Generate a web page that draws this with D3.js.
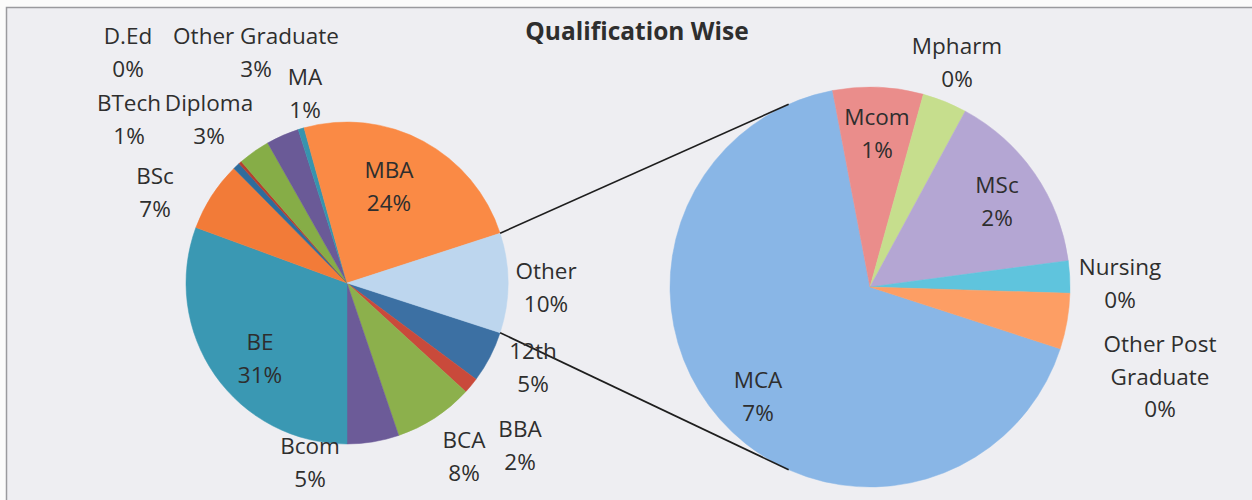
<html>
  <head>
    <title>Qualification Wise</title>
    <meta charset="utf-8" />
    <script src="https://cdnjs.cloudflare.com/ajax/libs/d3/7.8.5/d3.min.js"></script>
    <style>
      body {
        margin: 0;
        background: #fbfbfb;
      }
      svg {
        display: block;
      }
      text {
        font-family: "Open Sans", sans-serif;
        font-size: 22.5px;
        fill: #2e2e2e;
      }
      text.title {
        font-weight: bold;
        font-size: 24.5px;
      }
    </style>
  </head>
  <body>
    <svg width="1252" height="500"></svg>
  </body>

  <script>
    // first pie, % of all candidates
    const mainNames = ["12th", "BBA", "BCA", "Bcom", "BE", "BSc", "BTech", "D.Ed", "Diploma", "Other Graduate", "MA", "MBA"];
    const mainValues = [5.2, 1.6, 8, 5.2, 30.6, 7, 0.7, 0.3, 3.2, 3.3, 0.6, 24.3];

    // second pie = the "Other" slice split up, also % of all candidates
    const otherNames = ["MCA", "Mcom", "Mpharm", "MSc", "Nursing", "Other Post Graduate"];
    const otherValues = [6.7, 0.73, 0.36, 1.5, 0.26, 0.45];

    const mainColors = ["#3c70a3", "#c94a3b", "#8cb04c", "#6c5b98", "#3a98b3", "#f27b38",
                        "#2f6c9c", "#b5402f", "#86ad47", "#6a5a97", "#3794ae", "#fa8a45"];
    const otherColor = "#bdd6ee";
    const secondColors = ["#89b6e6", "#ea8d8b", "#c6de8d", "#b4a6d3", "#5fc4dd", "#fd9e64"];

    // where Excel put the labels (centre of first line)
    const labelPos = {
      "12th": [533, 352], "BBA": [520, 430], "BCA": [464, 441], "Bcom": [310, 447],
      "BE": [260, 343], "BSc": [155, 177], "BTech": [129, 104], "D.Ed": [128, 37],
      "Diploma": [209, 104], "Other Graduate": [256, 37], "MA": [305, 78], "MBA": [389, 171],
      "Other": [546, 272],
      "MCA": [758, 381], "Mcom": [877, 118], "Mpharm": [957, 47], "MSc": [997, 186],
      "Nursing": [1120, 268], "Other Post Graduate": [1160, 345]
    };
    const lineBreaks = { "Other Post Graduate": ["Other Post", "Graduate"] };
    const lineH = 32.5;

    const svg = d3.select("svg");
    const W = 1252, H = 500;

    // frame
    svg.append("rect").attr("x", 6.5).attr("y", 7.5).attr("width", W).attr("height", H)
      .attr("fill", "#eeeef2").attr("stroke", "#9a9a9e").attr("stroke-width", 1.5);

    svg.append("text").attr("class", "title").attr("x", 637).attr("y", 40)
      .attr("text-anchor", "middle").text("Qualification Wise");

    const fmt = (v) => Math.round(v) + "%";

    const otherTotal = d3.sum(otherValues);
    const mainData = mainNames.map((n, i) => ({ name: n, value: mainValues[i], color: mainColors[i] }));
    mainData.push({ name: "Other", value: otherTotal, color: otherColor });
    const secondData = otherNames.map((n, i) => ({ name: n, value: otherValues[i], color: secondColors[i] }));

    // "Other" slice centred on 3 o'clock
    const total = d3.sum(mainData, (d) => d.value);
    const start = Math.PI / 2 + (otherTotal / total) * Math.PI;

    const pie = d3.pie().sort(null).value((d) => d.value)
      .startAngle(start).endAngle(start + 2 * Math.PI);

    const c1 = [347, 283], r1 = 161;
    const c2 = [870, 287], r2 = 200;

    const arc1 = d3.arc().innerRadius(0).outerRadius(r1);
    const arc2 = d3.arc().innerRadius(0).outerRadius(r2);

    const g1 = svg.append("g").attr("transform", `translate(${c1})`);
    g1.selectAll("path").data(pie(mainData)).join("path")
      .attr("d", arc1).attr("fill", (d) => d.data.color)
      .attr("stroke", (d) => d.data.color).attr("stroke-width", 0.5);

    const g2 = svg.append("g").attr("transform", `translate(${c2})`);
    g2.selectAll("path").data(pie(secondData)).join("path")
      .attr("d", arc2).attr("fill", (d) => d.data.color)
      .attr("stroke", (d) => d.data.color).attr("stroke-width", 0.5);

    // connector lines from the edges of "Other" to the second pie
    const mainArcs = pie(mainData);
    const oth = mainArcs[mainArcs.length - 1];
    const pt = (c, r, a) => [c[0] + r * Math.sin(a), c[1] - r * Math.cos(a)];
    const linkAngle = 24 * Math.PI / 180; // off vertical on the second pie
    const links = [
      [pt(c1, r1, oth.startAngle), pt(c2, r2, -linkAngle)],
      [pt(c1, r1, oth.endAngle), pt(c2, r2, Math.PI + linkAngle)]
    ];
    svg.selectAll("line.link").data(links).join("line").attr("class", "link")
      .attr("x1", (d) => d[0][0]).attr("y1", (d) => d[0][1])
      .attr("x2", (d) => d[1][0]).attr("y2", (d) => d[1][1])
      .attr("stroke", "#1e1e1e").attr("stroke-width", 1.6);

    // labels
    const allLabels = mainData.concat(secondData);
    const lab = svg.selectAll("text.lab").data(allLabels).join("text").attr("class", "lab")
      .attr("text-anchor", "middle")
      .attr("transform", (d) => `translate(${labelPos[d.name]})`);
    lab.each(function (d) {
      const lines = (lineBreaks[d.name] || [d.name]).concat([fmt(d.value)]);
      d3.select(this).selectAll("tspan").data(lines).join("tspan")
        .attr("x", 0).attr("y", (l, i) => i * lineH + 7).text((l) => l);
    });
  </script>
</html>
